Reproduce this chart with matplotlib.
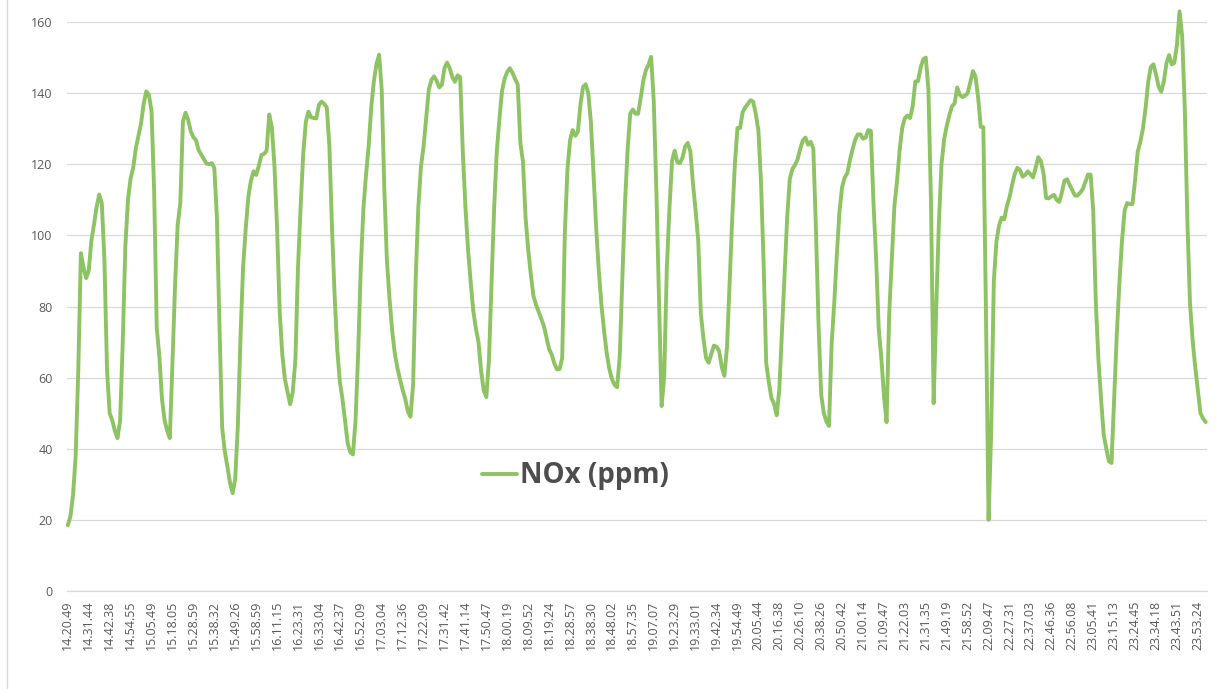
import numpy as np
import matplotlib
matplotlib.use('Agg')
import matplotlib.pyplot as plt
from matplotlib.lines import Line2D

plt.rcParams['font.family'] = ['Open Sans', 'DejaVu Sans']

##---------------------------------------------------- datos

# etiquetas del eje x (una cada 8 muestras)
tick_labels = ['14.20.49', '14.31.44', '14.42.38', '14.54.55', '15.05.49', '15.18.05',
               '15.28.59', '15.38.32', '15.49.26', '15.58.59', '16.11.15', '16.23.31',
               '16.33.04', '16.42.37', '16.52.09', '17.03.04', '17.12.36', '17.22.09',
               '17.31.42', '17.41.14', '17.50.47', '18.00.19', '18.09.52', '18.19.24',
               '18.28.57', '18.38.30', '18.48.02', '18.57.35', '19.07.07', '19.23.29',
               '19.33.01', '19.42.34', '19.54.49', '20.05.44', '20.16.38', '20.26.10',
               '20.38.26', '20.50.42', '21.00.14', '21.09.47', '21.22.03', '21.31.35',
               '21.49.19', '21.58.52', '22.09.47', '22.27.31', '22.37.03', '22.46.36',
               '22.56.08', '23.05.41', '23.15.13', '23.24.45', '23.34.18', '23.43.51',
               '23.53.24']
paso = 8

# NOx (ppm)
nox = [18.5, 21, 27, 38, 62, 95, 91, 88,
       90, 98.5, 103, 108, 111.5, 109, 93, 62,
       50, 48, 45, 43, 48, 70, 97, 110,
       116, 119, 124.5, 128, 131.5, 137, 140.5, 139.5,
       135, 112.6, 74, 66, 54, 48, 45, 43,
       64, 86, 103, 109, 132, 134.5, 132.5, 129.3,
       127.6, 126.8, 124, 122.7, 121.5, 120.2, 120, 120.3,
       119, 105, 74, 46, 39.3, 35, 30.5, 27.5,
       31.5, 46.5, 71, 91, 101.8, 110.8, 115.4, 118,
       117, 119.5, 122.6, 122.9, 123.8, 134, 130.4, 119.5,
       102, 78.5, 66.5, 59.5, 56, 52.5, 56, 65,
       91, 108, 123, 132, 134.8, 133.2, 133, 132.9,
       136.7, 137.6, 137, 136, 125, 102, 83, 68,
       58.8, 54, 47.8, 41.5, 39, 38.4, 48, 67,
       91, 107.5, 117, 125, 136, 143.3, 148.2, 150.8,
       141, 113, 92.7, 82, 73.2, 66.8, 62.7, 59.5,
       56.5, 54, 50.5, 49, 58, 88, 108, 119.3,
       125, 133, 141, 143.7, 144.7, 143.5, 141.6, 142.4,
       147, 148.6, 147, 144.5, 143.2, 145, 144.5, 123.5,
       108, 96, 87, 78.8, 73.8, 70, 61.8, 56.4,
       54.5, 65, 87, 108, 123.7, 132.8, 140.6, 144.1,
       146, 147, 145.7, 144, 142.4, 126, 120.7, 105,
       96, 89, 83, 80.5, 78.5, 76.6, 74.5, 71.3,
       68, 66.5, 64, 62.3, 62.4, 65.5, 100.5, 118.5,
       126.8, 129.6, 128, 129.2, 137, 141.8, 142.5, 139.8,
       131.5, 116.5, 102, 90, 80.5, 73.2, 67, 62.5,
       59.6, 58, 57.3, 66, 88, 109, 124, 134.2,
       135.4, 134.2, 134.2, 138.6, 143.5, 146.5, 148, 150.2,
       137.7, 112.6, 82.4, 52, 60.3, 91, 107.6, 121,
       123.8, 120.6, 120.3, 121.9, 125, 126, 123.6, 114.5,
       107, 98.6, 78, 71, 65.5, 64.2, 66.7, 69,
       68.7, 67.5, 63, 60.5, 68.5, 87, 104.8, 120,
       130.2, 130.2, 134.7, 136, 137, 138, 137.6, 134.2,
       129.5, 115, 92, 64, 58.7, 54.2, 52.6, 49.4,
       56.7, 73, 89.5, 105, 115.8, 118.7, 119.8, 121.4,
       124.4, 126.7, 127.5, 125.5, 126.3, 124.4, 101.8, 74.8,
       55.3, 50, 47.7, 46.4, 69.5, 81, 94.7, 106.7,
       113.6, 116.3, 117.5, 121.2, 124.2, 126.9, 128.4, 128.4,
       127.2, 127.5, 129.6, 129.4, 109, 93.7, 73.8, 65.5,
       55, 47.5, 77.8, 92.8, 108.3, 115.2, 124, 130.3,
       133, 133.7, 133, 136.3, 143.3, 143.3, 147.1, 149.5,
       150, 141, 109, 52.8, 80, 103.5, 120, 127,
       130.8, 133.8, 136.3, 137.1, 141.6, 139.5, 138.9, 139.3,
       140, 143, 146.2, 144.7, 138.8, 130.5, 130.4, 78,
       20, 45, 87, 98.3, 102.8, 105, 104.5, 108.3,
       110.7, 114.2, 117.3, 119, 118.4, 116.5, 117, 118,
       117.2, 116.3, 119, 122, 120.8, 117.5, 110.5, 110.4,
       111, 111.4, 110, 109.4, 112, 115.4, 115.8, 114.2,
       112.7, 111.2, 111.2, 112, 113, 115, 117.1, 117.1,
       107, 81, 65, 54, 44, 40, 36.5, 36,
       54, 72, 86.5, 98.5, 107, 109.1, 108.8, 108.8,
       115.5, 123.5, 126.3, 130, 135.7, 143, 147.3, 148.1,
       145.3, 141.8, 140.4, 143.3, 148.4, 150.7, 148.1, 148.5,
       153.6, 163, 156, 136, 104, 80.9, 70.5, 63,
       56.4, 50, 48.5, 47.5]

N = len(nox)
k = np.arange(N)

color = '#8dc363'
gris = '#d9d9d9'
texto = '#595959'

##---------------------------------------------------- grafico

W, H = 1226, 689
fig = plt.figure(figsize=(W / 100, H / 100), dpi=100)
ax = fig.add_axes([66.5 / W, 1 - 591 / H, (1207 - 66.5) / W, (591 - 22) / H])

# el pico de 163 sobresale del area (como en el original)
ax.plot(k, nox, color=color, lw=2.8, solid_joinstyle='round', solid_capstyle='round',
        label='NOx (ppm)', clip_on=False)

ax.set_xlim(-0.5, N - 0.5)
ax.set_ylim(0, 160)
ax.set_yticks(range(0, 161, 20))
ax.set_xticks(range(0, N, paso)[:len(tick_labels)])
ax.set_xticklabels(tick_labels, rotation=90)

ax.tick_params(axis='x', length=0, pad=7, labelsize=9, colors=texto)
ax.tick_params(axis='y', length=0, pad=10, labelsize=9, colors=texto)

ax.grid(axis='y', color=gris, lw=0.9)
ax.set_axisbelow(True)
for s in ['top', 'right', 'left']:
    ax.spines[s].set_visible(False)
ax.spines['bottom'].set_color(gris)
ax.spines['bottom'].set_linewidth(0.9)

# borde del area del grafico (izquierda)
fig.add_artist(Line2D([7 / W, 7 / W], [0, 1], transform=fig.transFigure, color=gris, lw=1))

leg = ax.legend(loc='center left', bbox_to_anchor=(482 / W, 1 - 476 / H),
                bbox_transform=fig.transFigure, frameon=False,
                prop={'weight': 'bold', 'size': 20}, handlelength=1.25,
                handletextpad=0.1, borderpad=0, borderaxespad=0)
for t in leg.get_texts():
    t.set_color('#4d4d4d')

plt.savefig('out.png', dpi=100)
